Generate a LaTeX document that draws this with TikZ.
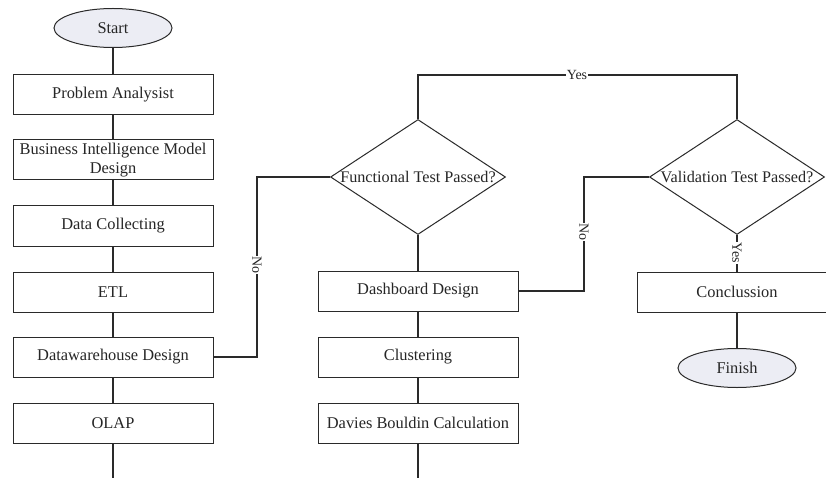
\documentclass[tikz,border=0pt]{standalone}
\usepackage{fontspec}
\setmainfont{Liberation Serif}
\usetikzlibrary{shapes.geometric}
\definecolor{ln}{HTML}{2A2A2A}
\definecolor{ovfill}{RGB}{236,237,244}
\tikzset{
  box/.style={draw=ln, line width=1pt, minimum width=200pt, minimum height=40pt, inner sep=2pt, align=center, font=\fontsize{16.4}{19}\selectfont, text=black!85},
  oval/.style={draw=ln, line width=1pt, ellipse, fill=ovfill, minimum width=118pt, minimum height=39pt, inner sep=0pt, font=\fontsize{16.4}{19}\selectfont, text=black!85},
  dia/.style={draw=ln, line width=1pt, diamond, minimum width=175pt, minimum height=115pt, inner sep=0pt},
  dtext/.style={font=\fontsize{16.2}{18}\selectfont, text=black!85},
  conn/.style={draw=ln, line width=1.3pt},
  lbl/.style={fill=white, inner sep=0.8pt, font=\fontsize{14}{16}\selectfont, text=black!85}
}
\begin{document}
\begin{tikzpicture}[x=1pt, y=-1pt]
\clip (0,0) rectangle (826,478);
\fill[white] (0,0) rectangle (826,478);
% left column
\node[oval] (start) at (113,28) {Start};
\node[box] (pa) at (113,95) {Problem Analysist};
\node[box] (bi) at (113,160) {Business Intelligence Model\\Design};
\node[box] (dc) at (113,226) {Data Collecting};
\node[box] (etl) at (113,292) {ETL};
\node[box] (dw) at (113,357) {Datawarehouse Design};
\node[box] (olap) at (113,423) {OLAP};
\coordinate (lend) at (113,478);
% middle column
\node[dia] (ft) at (418,177) {};
\node[dtext] (ftt) at (ft.center) {Functional Test Passed?};
\node[box] (db) at (418,291) {Dashboard Design};
\node[box] (cl) at (418,357) {Clustering};
\node[box] (dbc) at (418,423) {Davies Bouldin Calculation};
\coordinate (mend) at (418,478);
% right column
\node[dia] (vt) at (737,177) {};
\node[dtext] (vtt) at (vt.center) {Validation Test Passed?};
\node[box] (con) at (737,292) {Conclussion};
\node[oval] (fin) at (737,368) {Finish};
% routing helpers
\coordinate (k1) at (257,0);
\coordinate (k2) at (0,75);
\coordinate (k3) at (584,0);
% connectors
\draw[conn] (start) -- (pa);
\draw[conn] (pa) -- (bi);
\draw[conn] (bi) -- (dc);
\draw[conn] (dc) -- (etl);
\draw[conn] (etl) -- (dw);
\draw[conn] (dw) -- (olap);
\draw[conn] (olap) -- (lend);
\draw[conn] (dw.east) -| (k1 |- ft.west) -- (ft.west);
\draw[conn] (ft.north) -- (ft.north |- k2) -| (vt.north);
\draw[conn] (ft.south) -- (db.north);
\draw[conn] (db) -- (cl);
\draw[conn] (cl) -- (dbc);
\draw[conn] (dbc) -- (mend);
\draw[conn] (db.east) -| (k3 |- vt.west) -- (vt.west);
\draw[conn] (vt.south) -- (con.north);
\draw[conn] (con) -- (fin);
% labels
\node[lbl, rotate=-90] (no1) at (257,265) {No};
\node[lbl] (yes1) at (577,75) {Yes};
\node[lbl, rotate=-90] (no2) at (584,232) {No};
\node[lbl, rotate=-90] (yes2) at (737,253) {Yes};
\end{tikzpicture}
\end{document}
